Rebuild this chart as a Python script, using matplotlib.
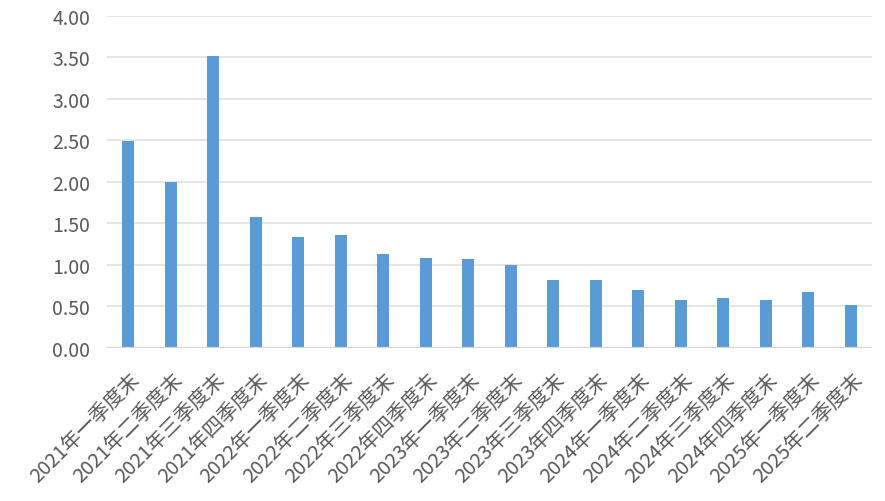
import matplotlib
matplotlib.use("Agg")
import matplotlib.pyplot as plt
import matplotlib.transforms as mtransforms

plt.rcParams['font.family'] = ['Noto Sans CJK SC', 'DejaVu Sans']

# 各季度末数据
quarters = [
    "2021年一季度末", "2021年二季度末", "2021年三季度末", "2021年四季度末",
    "2022年一季度末", "2022年二季度末", "2022年三季度末", "2022年四季度末",
    "2023年一季度末", "2023年二季度末", "2023年三季度末", "2023年四季度末",
    "2024年一季度末", "2024年二季度末", "2024年三季度末", "2024年四季度末",
    "2025年一季度末", "2025年二季度末",
]
values = [2.49, 2.00, 3.52, 1.57, 1.33, 1.36, 1.13, 1.08, 1.07,
          1.00, 0.82, 0.82, 0.70, 0.58, 0.60, 0.58, 0.67, 0.52]
yticks = [0.0, 0.5, 1.0, 1.5, 2.0, 2.5, 3.0, 3.5, 4.0]

BAR_COLOR = "#5B9BD5"
TEXT_COLOR = "#595959"

fig = plt.figure(figsize=(8.85, 5.02), dpi=100)
ax = fig.add_axes([0.1209, 0.3054, 0.8644, 0.6608])

x = list(range(len(quarters)))
ax.bar(x, values, width=0.28, color=BAR_COLOR, zorder=3)

ax.set_xlim(-0.5, len(quarters) - 0.5)
ax.set_ylim(0, 4)
ax.set_yticks(yticks)
ax.set_yticklabels([f"{v:.2f}" for v in yticks])
ax.grid(True, axis="y", color="#E3E3E3", linewidth=1.3, zorder=0)
ax.axhline(0, color="#D6D6D6", linewidth=1.6, zorder=4)

for s in ax.spines.values():
    s.set_visible(False)

ax.tick_params(axis="y", length=0, pad=12, labelsize=14, labelcolor=TEXT_COLOR)
ax.tick_params(axis="x", length=0, pad=15, labelsize=14.5, labelcolor=TEXT_COLOR)
ax.set_xticks(x)
ax.set_xticklabels(quarters, rotation=45, ha="right", va="top")

offset = mtransforms.ScaledTranslation(16 / 100, 0, fig.dpi_scale_trans)
for lbl in ax.get_xticklabels():
    lbl.set_transform(lbl.get_transform() + offset)

fig.savefig("out.png", dpi=100)
plt.close(fig)
